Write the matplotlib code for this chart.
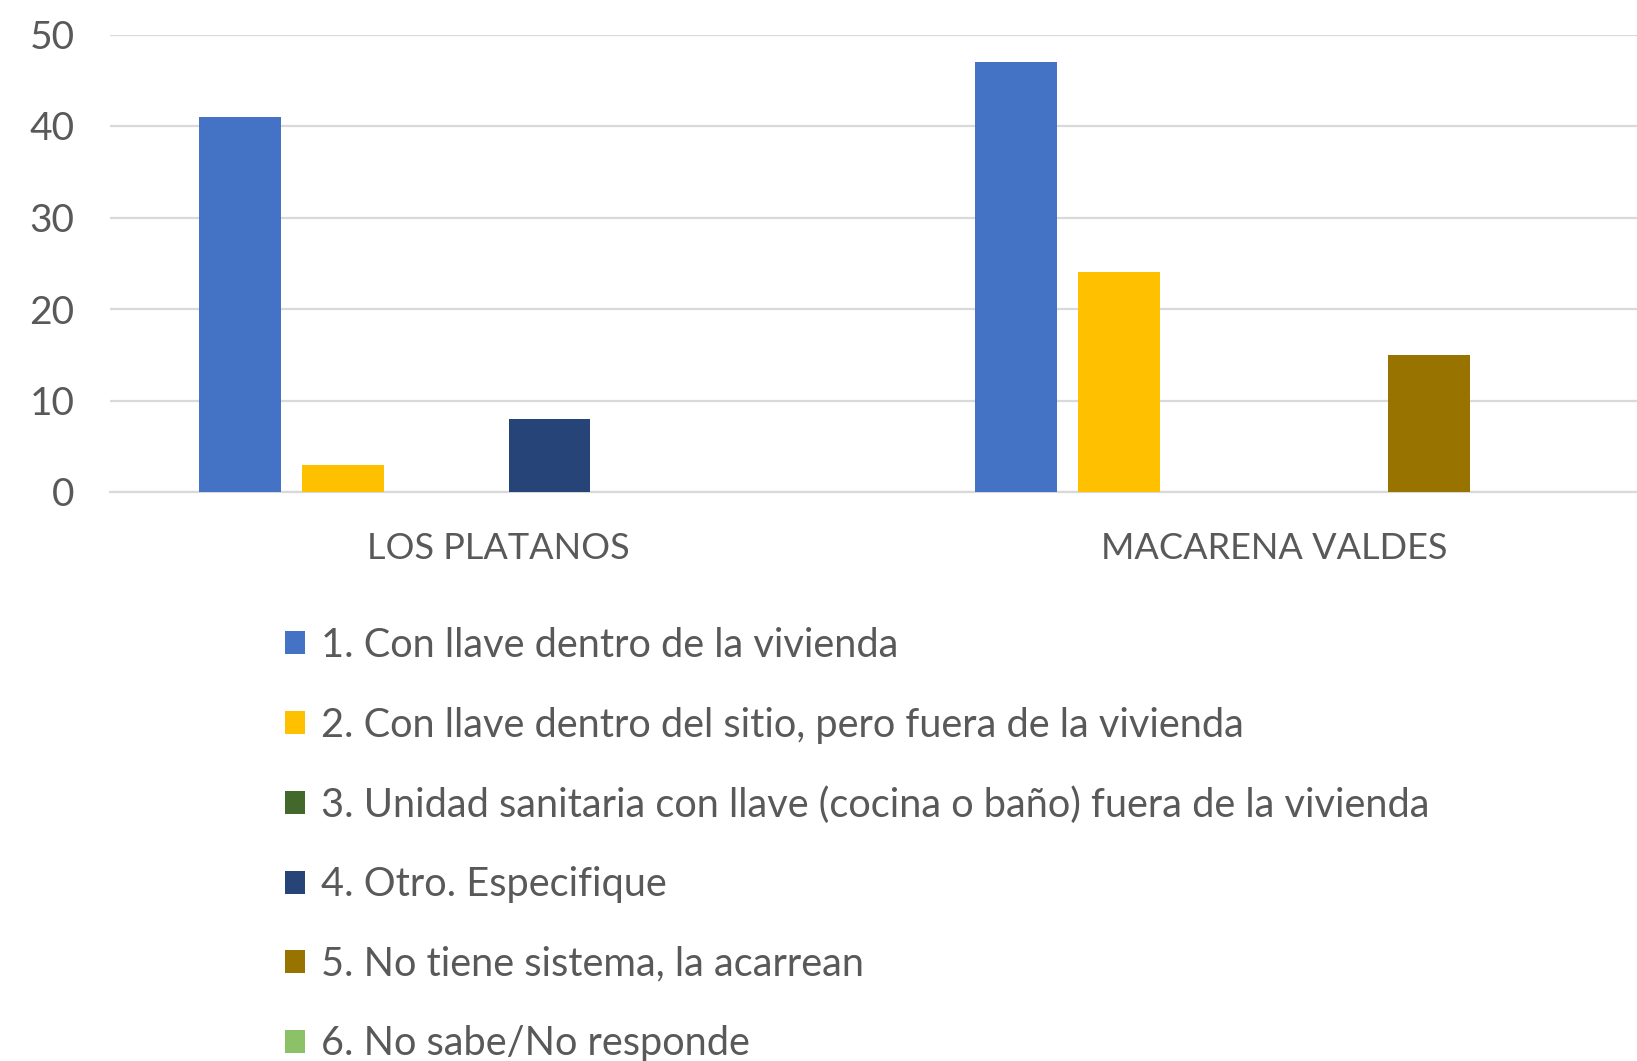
import matplotlib
matplotlib.use("Agg")
import matplotlib.pyplot as plt
import numpy as np
from matplotlib.patches import Patch

categories = ["LOS PLATANOS", "MACARENA VALDES"]
series_labels = [
    "1. Con llave dentro de la vivienda",
    "2. Con llave dentro del sitio, pero fuera de la vivienda",
    "3. Unidad sanitaria con llave (cocina o baño) fuera de la vivienda",
    "4. Otro. Especifique",
    "5. No tiene sistema, la acarrean",
    "6. No sabe/No responde",
]
values = [
    [41, 47],
    [3, 24],
    [0, 0],
    [8, 0],
    [0, 15],
    [0, 0],
]
colors = ["#4472C4", "#FFC000", "#43682B", "#264478", "#997300", "#8CC168"]
yticks = [0, 10, 20, 30, 40, 50]

plt.rcParams["font.family"] = ["Lato", "DejaVu Sans"]
text_color = "#595959"
grid_color = "#D9D9D9"

fig = plt.figure(figsize=(16.37, 10.61), dpi=100)
ax = fig.add_axes([110 / 1637, 1 - 492 / 1061, (1662 - 110) / 1637, (492 - 34.5) / 1061])

x = np.arange(len(categories))
n = len(series_labels)
slot = 0.133
bw = 0.105
for i, (lab, vals, c) in enumerate(zip(series_labels, values, colors)):
    offs = (i - (n - 1) / 2) * slot
    ax.bar(x + offs, vals, width=bw, color=c, label=lab, zorder=3)

ax.set_xlim(-0.5, len(categories) - 0.5)
ax.set_ylim(0, 50)
ax.set_yticks(yticks)
ax.set_xticks(x)
ax.set_xticklabels(categories)
ax.yaxis.grid(True, color=grid_color, linewidth=1.6, zorder=0)
ax.set_axisbelow(True)
for s in ["top", "right", "left"]:
    ax.spines[s].set_visible(False)
ax.spines["bottom"].set_color(grid_color)
ax.spines["bottom"].set_linewidth(1.6)
ax.tick_params(axis="both", length=0, colors=text_color)
ax.tick_params(axis="x", labelsize=26, pad=29)
ax.tick_params(axis="y", labelsize=28, pad=25.5)

handles = [Patch(facecolor=c) for c in colors]
fig.legend(handles, series_labels, loc="upper left",
           bbox_to_anchor=(285 / 1637, 1 - 627 / 1061),
           frameon=False, fontsize=28.6, labelcolor=text_color,
           handlelength=0.51, handleheight=0.51, handletextpad=0.39,
           labelspacing=1.07, borderaxespad=0, borderpad=0)

fig.savefig("out.png", dpi=100)
